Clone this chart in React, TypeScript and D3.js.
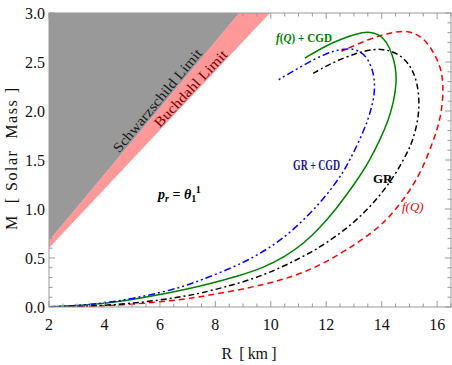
import React from "react";
import * as d3 from "d3";

const W = 452, H = 365;
const xTicks = [2, 4, 6, 8, 10, 12, 14, 16];
const yTicks = [0, 0.5, 1.0, 1.5, 2.0, 2.5, 3.0];
const yTickLabels = ["0.0", "0.5", "1.0", "1.5", "2.0", "2.5", "3.0"];

// [R (km), M (solar mass)] along each curve, from low mass to the end
const gr_cgd: [number, number][] = [
  [2, 0.002], [3, 0.014], [4, 0.04], [5, 0.085], [6, 0.145], [6.8, 0.205], [7.45, 0.27],
  [8.65, 0.405], [9.4, 0.51], [10.09, 0.63], [10.7, 0.76], [11.29, 0.92], [11.8, 1.07],
  [12.25, 1.23], [12.6, 1.37], [12.85, 1.5], [13.2, 1.7], [13.5, 1.9], [13.7, 2.1],
  [13.76, 2.25], [13.7, 2.4], [13.5, 2.54], [13.2, 2.615], [12.85, 2.64], [12.45, 2.625],
  [12.01, 2.59], [11.17, 2.47], [10.27, 2.316],
];
const fq_cgd: [number, number][] = [
  [2, 0.002], [3, 0.012], [4, 0.035], [5, 0.075], [6, 0.125], [7, 0.185], [7.63, 0.224],
  [8.96, 0.327], [9.72, 0.4], [10.51, 0.513], [11.2, 0.65], [11.81, 0.82], [12.35, 1.0],
  [12.8, 1.17], [13.2, 1.33], [13.57, 1.5], [13.93, 1.7], [14.24, 1.9], [14.44, 2.1],
  [14.54, 2.3], [14.5, 2.45], [14.38, 2.58], [14.18, 2.71], [13.9, 2.785], [13.51, 2.81],
  [13.1, 2.79], [12.5, 2.73], [12.01, 2.67], [11.23, 2.54],
];
const gr: [number, number][] = [
  [2, 0.001], [3, 0.005], [4, 0.016], [5, 0.038], [6, 0.07], [7, 0.115], [7.45, 0.14],
  [8.3, 0.2], [9.25, 0.276], [10.2, 0.38], [11.05, 0.497], [11.8, 0.615], [12.49, 0.75],
  [13.0, 0.865], [13.46, 0.99], [13.85, 1.11], [14.18, 1.23], [14.5, 1.36], [14.78, 1.5],
  [15.0, 1.62], [15.14, 1.72], [15.28, 1.87], [15.35, 2.02], [15.34, 2.15], [15.28, 2.28],
  [15.15, 2.39], [15.0, 2.47], [14.75, 2.55], [14.42, 2.605], [14.05, 2.63], [13.7, 2.63],
  [13.2, 2.6], [12.61, 2.54], [12.0, 2.46], [11.53, 2.385],
];
const fq: [number, number][] = [
  [2, 0.001], [3, 0.004], [4, 0.012], [5, 0.028], [6, 0.052], [7, 0.085], [7.45, 0.105],
  [8.6, 0.16], [9.85, 0.235], [10.8, 0.31], [11.65, 0.41], [12.4, 0.525], [13.1, 0.65],
  [13.7, 0.77], [14.18, 0.89], [14.6, 1.03], [15.02, 1.19], [15.44, 1.39], [15.86, 1.69],
  [16.1, 1.9], [16.2, 2.1], [16.22, 2.27], [16.15, 2.42], [15.98, 2.54], [15.75, 2.655],
  [15.5, 2.74], [15.15, 2.8], [14.78, 2.82], [14.2, 2.79], [13.58, 2.74], [12.55, 2.61],
];

const KM_PER_MSUN = 1.4766;
const schwarzschildSlope = 1 / (2 * KM_PER_MSUN);
const buchdahlSlope = 4 / (9 * KM_PER_MSUN);

const SERIF = '"Liberation Serif", Tinos, "Times New Roman", Times, serif';

export default function App() {
  const x = d3.scaleLinear().domain([2, 16.5]).range([49, 451]);
  const y = d3.scaleLinear().domain([0, 3]).range([307, 13]);
  const [x0, x1] = x.range();
  const [y0, y1] = y.range();

  const line = d3
    .line<[number, number]>()
    .x((d) => x(d[0]))
    .y((d) => y(d[1]))
    .curve(d3.curveBasis);

  const rS3 = 3 / schwarzschildSlope;
  const rB3 = 3 / buchdahlSlope;
  const grayPoly: [number, number][] = [
    [2, 2 * schwarzschildSlope], [rS3, 3], [2, 3],
  ];
  const pinkPoly: [number, number][] = [
    [2, 2 * buchdahlSlope], [rB3, 3], [rS3, 3], [2, 2 * schwarzschildSlope],
  ];
  const poly = (p: [number, number][]) =>
    "M" + p.map((d) => `${x(d[0])},${y(d[1])}`).join("L") + "Z";

  const xMinor = d3.range(2, 16.51, 0.5);
  const yMinor = d3.range(0, 3.001, 0.1);
  const frame = "#999999";

  const angS = (Math.atan2(y(0) - y(schwarzschildSlope), x(1) - x(0)) * 180) / Math.PI;
  const angB = (Math.atan2(y(0) - y(buchdahlSlope), x(1) - x(0)) * 180) / Math.PI;
  const sR = 6.04, bR = 7.23;

  return (
    <svg width={W} height={H} style={{ position: "absolute", left: 0, top: 0, background: "#fff", fontFamily: SERIF }}>
      <defs>
        <clipPath id="plot">
          <rect x={x0} y={y1} width={x1 - x0} height={y0 - y1} />
        </clipPath>
      </defs>
      <g clipPath="url(#plot)">
        <path d={poly(pinkPoly)} fill="#ff9999" />
        <path d={poly(grayPoly)} fill="#999999" />
        <path d={line(fq) || ""} fill="none" stroke="#ff0000" strokeWidth={1.5} strokeDasharray="6,4" />
        <path d={line(gr) || ""} fill="none" stroke="#000" strokeWidth={1.5} strokeDasharray="6,3,2,3" />
        <path d={line(fq_cgd) || ""} fill="none" stroke="#008000" strokeWidth={1.5} />
        <path d={line(gr_cgd) || ""} fill="none" stroke="#0000ff" strokeWidth={1.5} strokeDasharray="7,3,2,3,2,3" />
      </g>

      <text transform={`translate(${x(sR)},${y(sR * schwarzschildSlope) - 3}) rotate(${-angS})`}
        textAnchor="middle" fontSize={14} fill="#1a1a1a" textLength={130} lengthAdjust="spacingAndGlyphs"
        style={{ fontFamily: SERIF }}>Schwarzschild Limit</text>
      <text transform={`translate(${x(bR)},${y(bR * buchdahlSlope) - 2}) rotate(${-angB})`}
        textAnchor="middle" fontSize={14} fill="#7a0000" textLength={100} lengthAdjust="spacingAndGlyphs"
        style={{ fontFamily: SERIF }}>Buchdahl Limit</text>

      <rect x={x0} y={y1} width={x1 - x0} height={y0 - y1} fill="none" stroke={frame} strokeWidth={1} />
      {xMinor.map((v, i) => {
        const major = xTicks.includes(v);
        const len = major ? 6 : 3.5;
        return (
          <g key={"xt" + i} stroke={frame}>
            <line x1={x(v)} x2={x(v)} y1={y0} y2={y0 - len} />
            <line x1={x(v)} x2={x(v)} y1={y1} y2={y1 + len} />
          </g>
        );
      })}
      {yMinor.map((v, i) => {
        const major = Math.abs(v * 2 - Math.round(v * 2)) < 1e-6;
        const len = major ? 6 : 3.5;
        return (
          <g key={"yt" + i} stroke={frame}>
            <line x1={x0} x2={x0 + len} y1={y(v)} y2={y(v)} />
            <line x1={x1} x2={x1 - len} y1={y(v)} y2={y(v)} />
          </g>
        );
      })}
      {xTicks.map((v) => (
        <text key={"xl" + v} x={x(v)} y={330} textAnchor="middle" fontSize={16} fill="#111" style={{ fontFamily: SERIF }}>{v}</text>
      ))}
      {yTicks.map((v, i) => (
        <text key={"yl" + v} x={45} y={y(v) + 5.5} textAnchor="end" fontSize={16} fill="#111" style={{ fontFamily: SERIF }}>{yTickLabels[i]}</text>
      ))}
      <text x={249} y={359} textAnchor="middle" fontSize={16} fill="#111" textLength={55} lengthAdjust="spacing"
        style={{ whiteSpace: "pre", fontFamily: SERIF }}>{"R  [ km ]"}</text>
      <text transform="translate(17,159) rotate(-90)" textAnchor="middle" fontSize={16} fill="#111"
        textLength={142} lengthAdjust="spacing"
        style={{ whiteSpace: "pre", fontFamily: SERIF }}>{"M  [ Solar  Mass ]"}</text>

      <text x={158} y={199} fontSize={14} fontWeight="bold" fill="#000" style={{ fontFamily: SERIF }}>
        <tspan fontStyle="italic">p</tspan>
        <tspan fontSize={10} dy={3} fontStyle="italic">r</tspan>
        <tspan dy={-3}>{" = "}</tspan>
        <tspan fontStyle="italic">θ</tspan>
        <tspan fontSize={10} dy={3}>1</tspan>
        <tspan fontSize={10} dy={-9}>1</tspan>
      </text>
      <text transform="translate(276,42) scale(0.86,1)" fontSize={13} fontWeight="bold" fill="#008000"
        style={{ fontFamily: SERIF }}>
        <tspan fontStyle="italic">f</tspan>
        <tspan>(</tspan>
        <tspan fontStyle="italic">Q</tspan>
        <tspan>{") + CGD"}</tspan>
      </text>
      <text x={293} y={170} fontSize={14} fontWeight="bold" fill="#1a1a8c" textLength={47} lengthAdjust="spacingAndGlyphs"
        style={{ fontFamily: SERIF }}>GR + CGD</text>
      <text x={373} y={183} fontSize={13} fontWeight="bold" fill="#000" style={{ fontFamily: SERIF }}>GR</text>
      <text x={402} y={211} fontSize={13} fontStyle="italic" fill="#ff0000" style={{ fontFamily: SERIF }}>f(Q)</text>
    </svg>
  );
}
